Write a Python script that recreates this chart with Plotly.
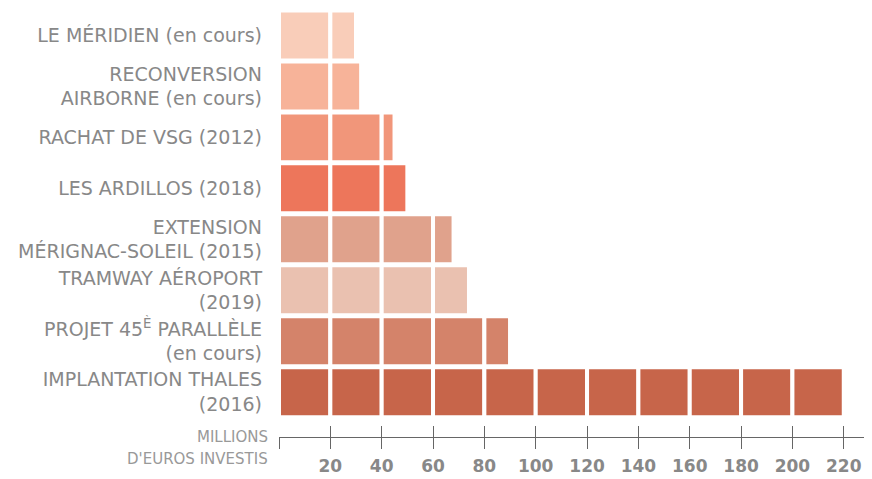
import plotly.graph_objects as go

projects = [
    "LE MÉRIDIEN (en cours)",
    "RECONVERSION<br>AIRBORNE (en cours)",
    "RACHAT DE VSG (2012)",
    "LES ARDILLOS (2018)",
    "EXTENSION<br>MÉRIGNAC-SOLEIL (2015)",
    "TRAMWAY AÉROPORT<br>(2019)",
    "PROJET 45<sup>È</sup> PARALLÈLE<br>(en cours)",
    "IMPLANTATION THALES<br>(2016)",
]
investments = [30, 32, 45, 50, 68, 74, 90, 220]
colors = ["#F9CDB9", "#F7B399", "#F1967A", "#ED765B",
          "#E0A28C", "#EAC1B0", "#D4836A", "#C7654A"]
block = 20
tick_values = list(range(0, 221, 20))
label_values = tick_values[1:]
label_texts = [str(v) for v in label_values]

rows = list(range(len(projects)))
n_blocks = max(-(-v // block) for v in investments)

fig = go.Figure()
for k in range(n_blocks):
    lo = k * block
    xs = [min(block, v - lo) if v > lo else None for v in investments]
    fig.add_trace(go.Bar(
        y=rows, x=xs, base=[lo] * len(rows), orientation="h",
        marker=dict(color=colors, line=dict(color="white", width=4)),
        showlegend=False, hoverinfo="skip",
    ))
fig.add_trace(go.Scatter(x=[None], y=[None], xaxis="x2", showlegend=False))
fig.add_trace(go.Scatter(x=[None], y=[None], xaxis="x3", showlegend=False))

grey = "#888888"
axis_col = "#666666"
xr = [0, 231]
common = dict(range=xr, showgrid=False, zeroline=False, automargin=False)
fig.update_layout(
    width=864, height=471,
    margin=dict(l=271, r=0, t=2, b=42),
    paper_bgcolor="white", plot_bgcolor="white",
    barmode="overlay", bargap=0.02,
    font=dict(family="DejaVu Sans", color=grey),
    xaxis=dict(**common, tickvals=label_values, ticktext=label_texts,
               ticks="outside", ticklen=11, tickcolor=axis_col, tickwidth=1,
               showline=True, linecolor=axis_col, linewidth=1,
               ticklabelstandoff=3,
               tickfont=dict(size=17, color=grey, weight="bold")),
    xaxis2=dict(**common, overlaying="x", anchor="y", side="bottom",
                tickvals=tick_values, ticks="inside", ticklen=11,
                tickcolor=axis_col, tickwidth=1, showticklabels=False,
                showline=False),
    xaxis3=dict(**common, overlaying="x", anchor="y", side="bottom",
                tickvals=tick_values[:1], ticks="outside", ticklen=11,
                tickcolor=axis_col, tickwidth=1, showticklabels=False,
                showline=False),
    yaxis=dict(range=[7.88, -0.5], tickvals=rows, ticktext=projects,
               showgrid=False, zeroline=False, showline=False, ticks="",
               automargin=False, ticklabelstandoff=16,
               tickfont=dict(size=19, color=grey)),
    annotations=[
        dict(text="MILLIONS", xref="paper", yref="paper", x=0, y=0,
             xanchor="right", yanchor="middle", xshift=-9, yshift=0,
             showarrow=False, font=dict(size=15, color="#999999")),
        dict(text="D'EUROS INVESTIS", xref="paper", yref="paper", x=0, y=0,
             xanchor="right", yanchor="middle", xshift=-9, yshift=-22,
             showarrow=False, font=dict(size=15, color="#999999")),
    ],
)

fig.write_html("out.html")
